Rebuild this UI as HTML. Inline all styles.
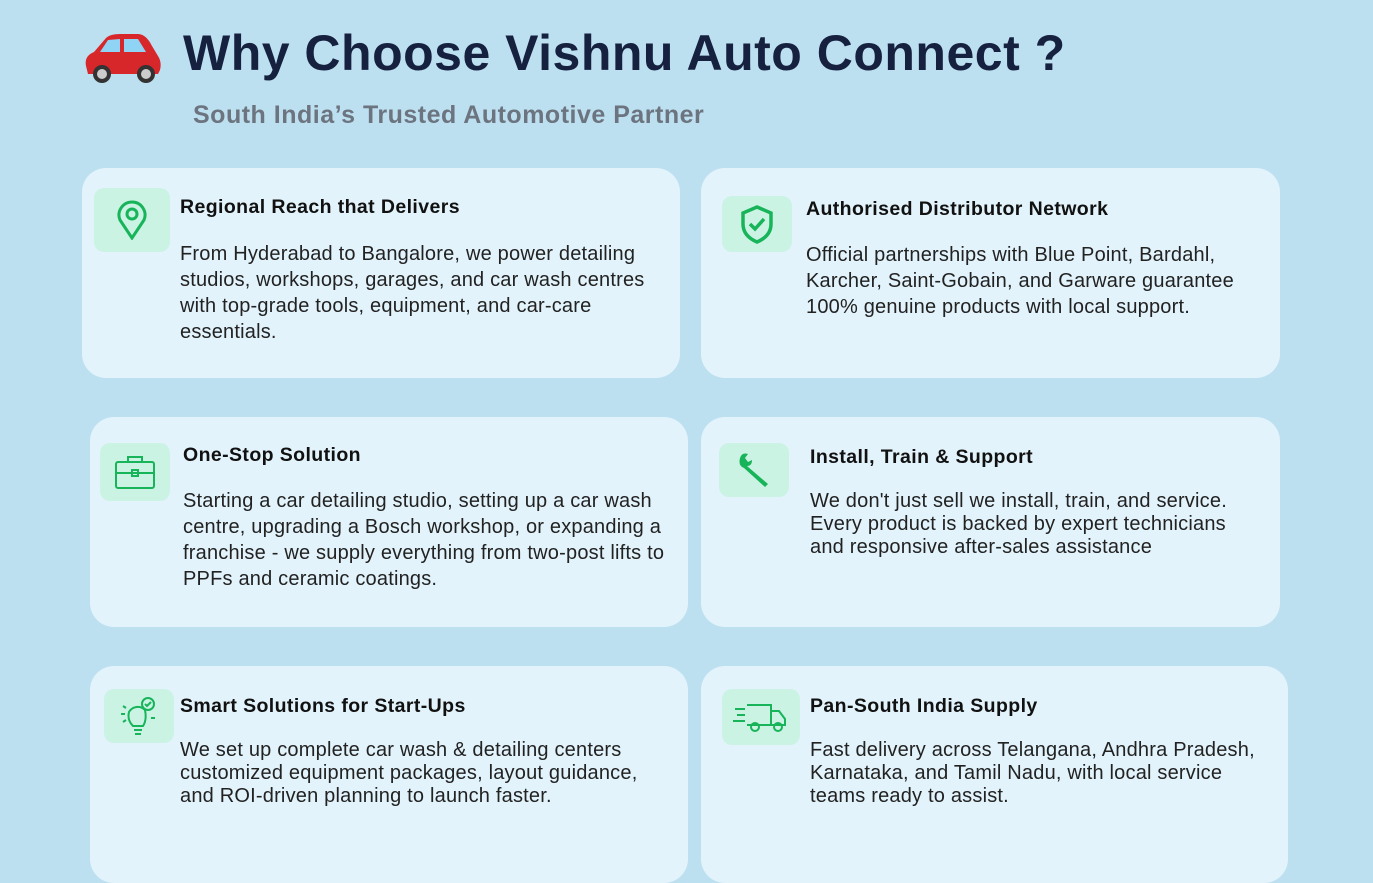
<!DOCTYPE html>
<html><head><meta charset="utf-8"><style>
body{margin:0;width:1373px;height:883px;background:#bde0f1;position:relative;overflow:hidden;font-family:"Liberation Sans",sans-serif;}
.card{position:absolute;background:#e2f3fb;border-radius:24px;}
.ib{position:absolute;background:#cbf3e4;border-radius:10px;display:flex;align-items:center;justify-content:center;}
.h{position:absolute;font-weight:bold;font-size:19.5px;letter-spacing:0.4px;color:#111;white-space:nowrap;}
.t{position:absolute;font-size:20px;letter-spacing:0.2px;line-height:26px;color:#222;white-space:nowrap;}
.t2{line-height:23px;}
</style></head><body>
<svg style="position:absolute;left:80px;top:30px" width="84" height="56" viewBox="0 0 84 56">
<path d="M6 36 Q4 26 14 22 L26 8 Q30 4 40 4 L58 4 Q66 4 72 16 L78 26 Q82 32 80 40 L78 44 L8 44 Z" fill="#d8272b"/>
<path d="M28 10 L40 9 L40 22 L20 22 Z" fill="#8fd3f5"/><path d="M44 9 L58 9 L66 22 L44 22 Z" fill="#8fd3f5"/>
<circle cx="22" cy="44" r="9" fill="#333"/><circle cx="22" cy="44" r="5" fill="#ccc"/>
<circle cx="66" cy="44" r="9" fill="#333"/><circle cx="66" cy="44" r="5" fill="#ccc"/></svg>
<div style="position:absolute;left:183px;top:24px;font-size:50px;letter-spacing:0.5px;font-weight:bold;color:#15213f;white-space:nowrap">Why Choose Vishnu Auto Connect ?</div>
<div style="position:absolute;left:193px;top:101px;font-size:25px;letter-spacing:0.5px;font-weight:bold;color:#6c7480;white-space:nowrap">South India’s Trusted Automotive Partner</div>

<div class="card" style="left:82px;top:168px;width:598px;height:210px"></div>
<div class="card" style="left:701px;top:168px;width:579px;height:210px"></div>
<div class="card" style="left:90px;top:417px;width:598px;height:210px"></div>
<div class="card" style="left:701px;top:417px;width:579px;height:210px"></div>
<div class="card" style="left:90px;top:666px;width:598px;height:217px"></div>
<div class="card" style="left:701px;top:666px;width:587px;height:217px"></div>

<div class="ib" style="left:94px;top:188px;width:76px;height:64px"><svg width="34" height="40" viewBox="0 0 34 40" fill="none" stroke="#17b45a" stroke-width="3"><path d="M17 38 L5 20 A13 13 0 1 1 29 20 Z"/><circle cx="17" cy="14" r="5"/></svg></div>
<div class="ib" style="left:722px;top:196px;width:70px;height:56px"><svg width="36" height="40" viewBox="0 0 36 40" fill="none" stroke="#17b45a" stroke-width="3.5"><path d="M18 3 L32 9 V20 Q32 32 18 38 Q4 32 4 20 V9 Z"/><path d="M11 20 L16 25 L25 15"/></svg></div>
<div class="ib" style="left:100px;top:443px;width:70px;height:58px"><svg width="44" height="40" viewBox="0 0 44 40" fill="none" stroke="#17b45a" stroke-width="2"><rect x="3" y="10" width="38" height="26" rx="2"/><path d="M15 10 V5 H29 V10 M3 21 H41"/><rect x="19" y="18" width="6" height="6"/></svg></div>
<div class="ib" style="left:719px;top:443px;width:70px;height:54px"><svg width="40" height="40" viewBox="0 0 40 40"><path d="M6 8 Q8 2 14 4 L11 8 L14 12 L18 10 Q18 16 13 16 L34 34 L31 37 L10 18 Q4 16 6 8 Z" fill="#17b45a"/></svg></div>
<div class="ib" style="left:104px;top:689px;width:70px;height:54px"><svg width="48" height="48" viewBox="0 0 48 48" fill="none" stroke="#17b45a" stroke-width="2"><path d="M18 34 Q12 28 14 20 A10 10 0 0 1 30 18 Q32 28 28 34 Z"/><path d="M19 38 H27 M20 42 H26"/><circle cx="33" cy="12" r="6"/><path d="M30 12 L32 14 L36 10 M6 22 H10 M36 26 H40 M8 14 L11 16 M8 30 L11 28"/></svg></div>
<div class="ib" style="left:722px;top:689px;width:78px;height:56px"><svg width="60" height="40" viewBox="0 0 60 40" fill="none" stroke="#17b45a" stroke-width="2"><path d="M16 8 H40 V28 H16 M40 14 H48 L54 22 V28 H40"/><circle cx="24" cy="30" r="4"/><circle cx="47" cy="30" r="4"/><path d="M4 12 H14 M6 18 H14 M2 24 H14"/></svg></div>

<div class="h" style="left:180px;top:196px">Regional Reach that Delivers</div>
<div class="t" style="left:180px;top:241px">From Hyderabad to Bangalore, we power detailing<br>studios, workshops, garages, and car wash centres<br>with top-grade tools, equipment, and car-care<br>essentials.</div>
<div class="h" style="left:806px;top:198px">Authorised Distributor Network</div>
<div class="t" style="left:806px;top:242px">Official partnerships with Blue Point, Bardahl,<br>Karcher, Saint-Gobain, and Garware guarantee<br>100% genuine products with local support.</div>
<div class="h" style="left:183px;top:444px">One-Stop Solution</div>
<div class="t" style="left:183px;top:488px">Starting a car detailing studio, setting up a car wash<br>centre, upgrading a Bosch workshop, or expanding a<br>franchise - we supply everything from two-post lifts to<br>PPFs and ceramic coatings.</div>
<div class="h" style="left:810px;top:446px">Install, Train &amp; Support</div>
<div class="t t2" style="left:810px;top:490px">We don't just sell we install, train, and service.<br>Every product is backed by expert technicians<br>and responsive after-sales assistance</div>
<div class="h" style="left:180px;top:695px">Smart Solutions for Start-Ups</div>
<div class="t t2" style="left:180px;top:739px">We set up complete car wash &amp; detailing centers<br>customized equipment packages, layout guidance,<br>and ROI-driven planning to launch faster.</div>
<div class="h" style="left:810px;top:695px">Pan-South India Supply</div>
<div class="t t2" style="left:810px;top:739px">Fast delivery across Telangana, Andhra Pradesh,<br>Karnataka, and Tamil Nadu, with local service<br>teams ready to assist.</div>
</body></html>
